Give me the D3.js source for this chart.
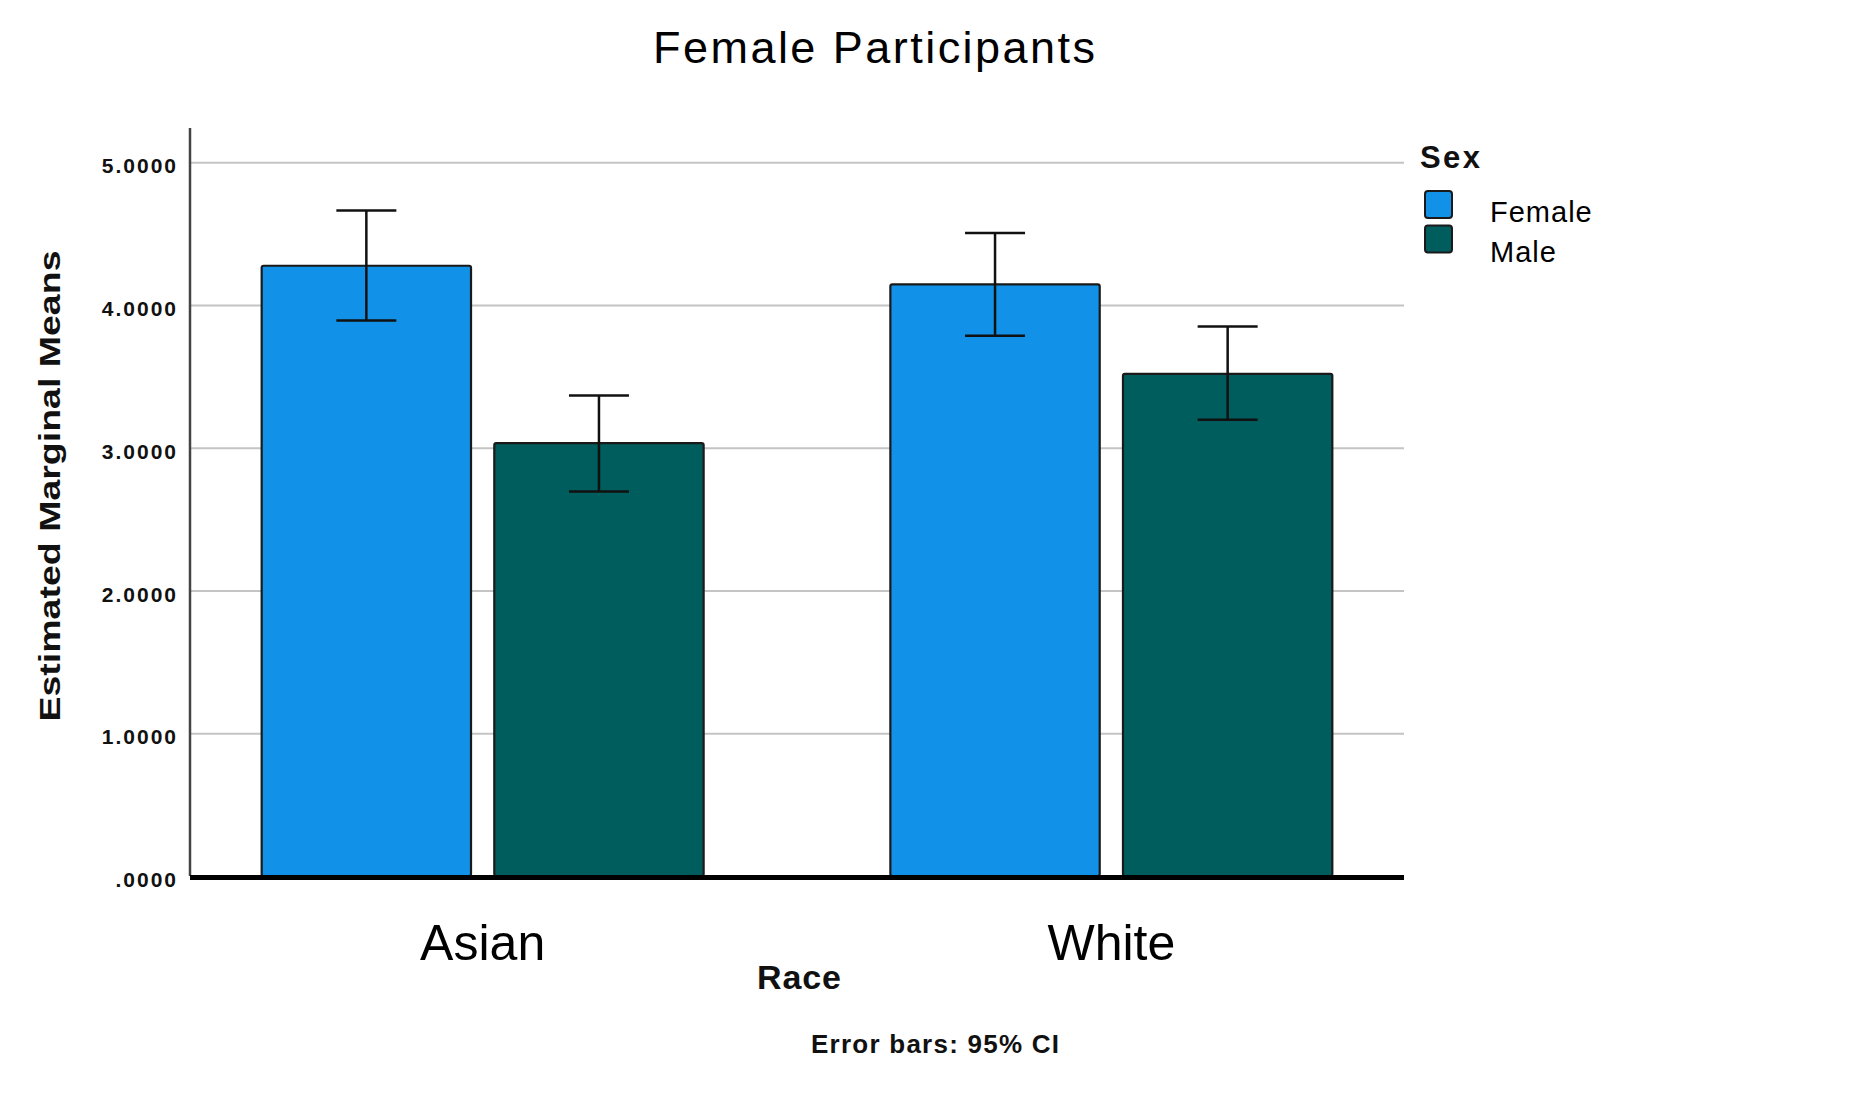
<!DOCTYPE html>
<html>
<head>
<meta charset="utf-8">
<script src="https://cdn.jsdelivr.net/npm/d3@7"></script>
<style>
    body { margin: 0; background: #fff; }
    #chart { width: 1872px; height: 1103px; }
    text { font-family: "Liberation Sans", Arial, sans-serif; }
</style>
</head>
<body>
<div id="chart"></div>
<script>
// chart data
const races = ["Asian", "White"];
const sexes = ["Female", "Male"];
const meanFemale = [4.275, 4.144];
const meanMale = [3.032, 3.518];
const ciLowFemale = [3.891, 3.784];
const ciHighFemale = [4.662, 4.504];
const ciLowMale = [2.693, 3.196];
const ciHighMale = [3.366, 3.849];
const yTicks = [0, 1, 2, 3, 4, 5];

const sexColors = ["#1192e8", "#005d5d"];


class MeansBarVis {

    constructor(parentElement){
        this.parentElement = parentElement;
        this.displayData = [];

        this.initVis()
    }

    initVis(){
        let vis = this;

        vis.width = 1872;
        vis.height = 1103;
        vis.plot = {left: 190, right: 1404, top: 128, bottom: 876};

        vis.svg = d3.select("#" + vis.parentElement).append("svg")
            .attr("width", vis.width)
            .attr("height", vis.height);

        // scales
        vis.x0 = d3.scaleBand()
            .domain(races)
            .range([vis.plot.left, vis.plot.right])
            .paddingInner(0.297)
            .paddingOuter(0.114);

        vis.x1 = d3.scaleBand()
            .domain(sexes)
            .range([0, vis.x0.bandwidth()])
            .paddingInner(0.1);

        vis.y = d3.scaleLinear()
            .domain([0, 5.24])
            .range([vis.plot.bottom, vis.plot.top]);

        vis.color = d3.scaleOrdinal()
            .domain(sexes)
            .range(sexColors);

        // gridlines
        vis.svg.append("g")
            .attr("class", "grid")
            .attr("transform", `translate(${vis.plot.left},0)`)
            .call(d3.axisLeft(vis.y).tickValues(yTicks.slice(1))
                .tickSize(-(vis.plot.right - vis.plot.left)).tickFormat(""))
            .call(g => g.select(".domain").remove())
            .call(g => g.selectAll("line").attr("stroke", "#c4c4c4").attr("stroke-width", 2));

        // y tick labels
        vis.svg.append("g")
            .attr("class", "y-axis axis")
            .attr("transform", `translate(${vis.plot.left},0)`)
            .call(d3.axisLeft(vis.y).tickValues(yTicks).tickSize(0).tickPadding(12)
                .tickFormat(d => d === 0 ? ".0000" : d.toFixed(4)))
            .call(g => g.select(".domain").remove())
            .call(g => g.selectAll("text")
                .attr("dy", "0.5em")
                .style("font-family", "'Liberation Sans', Arial, sans-serif")
                .style("font-size", "21px")
                .style("font-weight", "bold")
                .style("letter-spacing", "2px")
                .attr("fill", "#111"));

        // y axis line
        vis.svg.append("line")
            .attr("x1", vis.plot.left).attr("x2", vis.plot.left)
            .attr("y1", vis.plot.top).attr("y2", vis.y(0))
            .attr("stroke", "#444")
            .attr("stroke-width", 2.5);

        vis.wrangleData();
    }

    wrangleData(){
        let vis = this;

        vis.displayData = races.map((race, i) => ({
            race: race,
            values: [
                {sex: "Female", mean: meanFemale[i], lo: ciLowFemale[i], hi: ciHighFemale[i]},
                {sex: "Male", mean: meanMale[i], lo: ciLowMale[i], hi: ciHighMale[i]}
            ]
        }));

        vis.updateVis()
    }

    updateVis(){
        let vis = this;
        let capHalf = 30;

        let groups = vis.svg.selectAll(".race-group")
            .data(vis.displayData)
            .enter().append("g")
            .attr("class", "race-group")
            .attr("transform", d => `translate(${vis.x0(d.race)},0)`);

        // bars
        groups.selectAll(".bars")
            .data(d => d.values)
            .enter().append("rect")
            .attr("class", "bars")
            .attr("x", d => vis.x1(d.sex))
            .attr("y", d => vis.y(d.mean))
            .attr("width", vis.x1.bandwidth())
            .attr("height", d => vis.y(0) - vis.y(d.mean))
            .attr("rx", 2)
            .attr("fill", d => vis.color(d.sex))
            .attr("stroke", "#1a1a1a")
            .attr("stroke-width", 2.2);

        // error bars
        let err = groups.selectAll(".err")
            .data(d => d.values)
            .enter().append("g")
            .attr("class", "err")
            .attr("transform", d => `translate(${vis.x1(d.sex) + vis.x1.bandwidth() / 2},0)`)
            .attr("stroke", "#111")
            .attr("stroke-width", 2.5);

        err.append("line")
            .attr("y1", d => vis.y(d.lo))
            .attr("y2", d => vis.y(d.hi));
        err.append("line")
            .attr("x1", -capHalf).attr("x2", capHalf)
            .attr("y1", d => vis.y(d.hi)).attr("y2", d => vis.y(d.hi));
        err.append("line")
            .attr("x1", -capHalf).attr("x2", capHalf)
            .attr("y1", d => vis.y(d.lo)).attr("y2", d => vis.y(d.lo));

        // baseline
        vis.svg.append("line")
            .attr("x1", vis.plot.left).attr("x2", vis.plot.right)
            .attr("y1", vis.y(0) + 1.5).attr("y2", vis.y(0) + 1.5)
            .attr("stroke", "#000")
            .attr("stroke-width", 5);

        // category labels
        vis.svg.selectAll(".race-label")
            .data(races)
            .enter().append("text")
            .attr("class", "race-label")
            .attr("x", d => vis.x0(d) + vis.x0.bandwidth() / 2)
            .attr("y", 960)
            .attr("text-anchor", "middle")
            .style("font-size", "50px")
            .attr("fill", "#000")
            .text(d => d);

        // titles
        vis.svg.append("text")
            .attr("x", 874).attr("y", 63)
            .attr("text-anchor", "middle")
            .attr("textLength", 442)
            .style("font-size", "45px")
            .text("Female Participants");

        vis.svg.append("text")
            .attr("transform", "translate(60,486) rotate(-90)")
            .attr("text-anchor", "middle")
            .attr("textLength", 471)
            .attr("lengthAdjust", "spacingAndGlyphs")
            .style("font-size", "29px")
            .style("font-weight", "bold")
            .attr("fill", "#111")
            .text("Estimated Marginal Means");

        vis.svg.append("text")
            .attr("x", 799).attr("y", 989)
            .attr("text-anchor", "middle")
            .attr("textLength", 84)
            .style("font-size", "34px")
            .style("font-weight", "bold")
            .attr("fill", "#111")
            .text("Race");

        vis.svg.append("text")
            .attr("x", 935).attr("y", 1053)
            .attr("text-anchor", "middle")
            .attr("textLength", 248)
            .style("font-size", "26px")
            .style("font-weight", "bold")
            .attr("fill", "#111")
            .text("Error bars: 95% CI");

        // legend
        let legend = vis.svg.append("g")
            .attr("class", "legend");

        legend.append("text")
            .attr("x", 1420).attr("y", 168)
            .attr("textLength", 60)
            .style("font-size", "31px")
            .style("font-weight", "bold")
            .attr("fill", "#111")
            .text("Sex");

        let items = legend.selectAll(".legend-item")
            .data(sexes)
            .enter().append("g")
            .attr("class", "legend-item")
            .attr("transform", (d, i) => `translate(1425,${191 + i * 34.5})`);

        items.append("rect")
            .attr("width", 27).attr("height", 27)
            .attr("rx", 3)
            .attr("fill", d => vis.color(d))
            .attr("stroke", "#1a1a1a")
            .attr("stroke-width", 2);

        items.append("text")
            .attr("x", 65).attr("y", (d, i) => 31 + i * 5.5)
            .style("font-size", "29px")
            .style("letter-spacing", "1px")
            .attr("fill", "#000")
            .text(d => d);
    }

}

let meansVis = new MeansBarVis("chart");
</script>
</body>
</html>
